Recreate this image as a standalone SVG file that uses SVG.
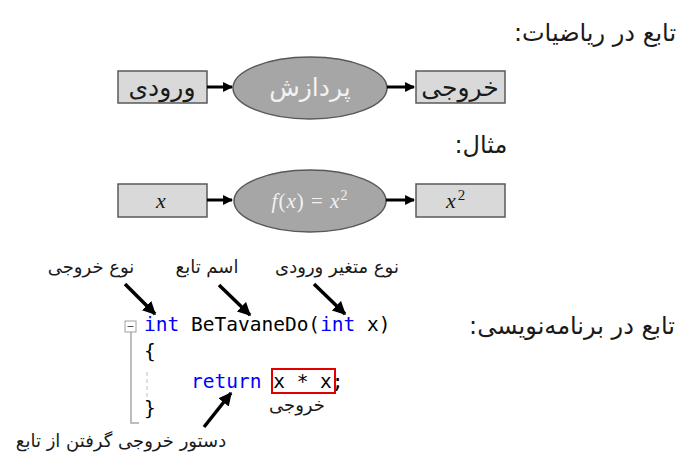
<svg xmlns="http://www.w3.org/2000/svg" width="700" height="475" viewBox="0 0 700 475">
<style>
.fa{font-family:"DejaVu Sans",sans-serif;fill:#1a1a1a}
.box{fill:#d9d9d9;stroke:#595959;stroke-width:1.5}
.ell{fill:#a6a6a6;stroke:#595959;stroke-width:1.5}
.math{font-family:"Liberation Serif",serif;font-style:italic;font-size:22px;fill:#1a1a1a}
.code{font-family:"DejaVu Sans Mono",monospace;font-size:19.5px;fill:#000}
.kw{fill:#0000ff}
.flow{stroke:#000;stroke-width:3;fill:none}
.ann{stroke:#000;stroke-width:3.5;fill:none}
</style>
<defs>
<marker id="ah" viewBox="0 0 10 10" refX="9" refY="5" markerWidth="3.3" markerHeight="3.3" orient="auto" markerUnits="strokeWidth">
<path d="M0,0 L10,5 L0,10 z" fill="#000"/>
</marker>
<marker id="ah2" viewBox="0 0 10 10" refX="9" refY="5" markerWidth="3.8" markerHeight="3.8" orient="auto" markerUnits="strokeWidth">
<path d="M0,0 L10,5 L0,10 z" fill="#000"/>
</marker>
</defs>

<g id="title-math"><text class="fa" x="595" y="41" font-size="24" text-anchor="middle" direction="rtl">تابع در ریاضیات:</text></g>

<g id="node-input"><rect class="box" x="118" y="71" width="89" height="32"/><text class="fa" x="162" y="96" font-size="25" text-anchor="middle" direction="rtl">ورودی</text></g>
<g id="node-process"><ellipse class="ell" cx="310" cy="88" rx="77" ry="31"/><text x="310" y="96" font-size="25" text-anchor="middle" direction="rtl" style="font-family:'DejaVu Sans',sans-serif;fill:#f2f2f2">پردازش</text></g>
<g id="node-output"><rect class="box" x="416" y="71" width="89" height="32"/><text class="fa" x="460" y="96" font-size="25" text-anchor="middle" direction="rtl">خروجی</text></g>

<g id="title-example"><text class="fa" x="481" y="153" font-size="24" text-anchor="middle" direction="rtl">مثال:</text></g>

<g id="node-x"><rect class="box" x="118" y="184" width="89" height="33"/><text class="math" x="156" y="208">x</text></g>
<g id="node-f"><ellipse class="ell" cx="310" cy="201" rx="76" ry="31"/><text x="310" y="208" text-anchor="middle" style="font-family:'Liberation Serif',serif;font-size:21px;fill:#f2f2f2" letter-spacing="1"><tspan font-style="italic">f</tspan>(<tspan font-style="italic">x</tspan>) = <tspan font-style="italic">x</tspan><tspan font-size="14" dy="-8">2</tspan></text></g>
<g id="node-x2"><rect class="box" x="416" y="184" width="89" height="33"/><text class="math" x="446" y="208">x<tspan font-style="normal" font-size="15" dy="-8" dx="2">2</tspan></text></g>

<g id="title-prog"><text class="fa" x="572" y="334" font-size="24" text-anchor="middle" direction="rtl">تابع در برنامه‌نویسی:</text></g>

<g id="code">
<rect x="125" y="321" width="11" height="11" fill="#fff" stroke="#a0a0a0" stroke-width="1"/>
<line x1="127.5" y1="326.5" x2="133.5" y2="326.5" stroke="#555" stroke-width="1"/>
<polyline points="131,332 131,423 139,423" fill="none" stroke="#a8a8a8" stroke-width="1.5"/>
<line x1="147" y1="372" x2="147" y2="398" stroke="#c8c8c8" stroke-width="1.2" stroke-dasharray="4,3"/>
<text class="code" x="144" y="331"><tspan class="kw">int</tspan> BeTavaneDo(<tspan class="kw">int</tspan> x)</text>
<text class="code" x="144" y="358">{</text>
<text class="code" x="144" y="388" xml:space="preserve">    <tspan class="kw">return</tspan> x * x;</text>
<text class="code" x="144" y="415">}</text>
<rect x="272" y="369" width="63" height="24" fill="none" stroke="#e00000" stroke-width="2"/>
</g>

<g id="label-rettype"><text class="fa" x="91" y="273" font-size="18" text-anchor="middle" direction="rtl">نوع خروجی</text></g>
<g id="label-name"><text class="fa" x="207" y="273" font-size="18" text-anchor="middle" direction="rtl">اسم تابع</text></g>
<g id="label-param"><text class="fa" x="337" y="273" font-size="18" text-anchor="middle" direction="rtl">نوع متغیر ورودی</text></g>
<g id="label-out"><text class="fa" x="297" y="411" font-size="18" text-anchor="middle" direction="rtl">خروجی</text></g>
<g id="label-return"><text class="fa" x="121" y="447" font-size="18" text-anchor="middle" direction="rtl">دستور خروجی گرفتن از تابع</text></g>

<g id="connectors">
<line class="flow" x1="207" y1="87" x2="232" y2="87" marker-end="url(#ah)"/>
<line class="flow" x1="387" y1="87" x2="414" y2="87" marker-end="url(#ah)"/>
<line class="flow" x1="207" y1="200" x2="232" y2="200" marker-end="url(#ah)"/>
<line class="flow" x1="386" y1="200" x2="414" y2="200" marker-end="url(#ah)"/>
<line class="ann" x1="125" y1="284" x2="155" y2="314" marker-end="url(#ah2)"/>
<line class="ann" x1="219" y1="285" x2="250" y2="315" marker-end="url(#ah2)"/>
<line class="ann" x1="314" y1="284" x2="345" y2="314" marker-end="url(#ah2)"/>
<line class="ann" x1="204" y1="427" x2="231" y2="393" marker-end="url(#ah2)"/>
</g>
</svg>
